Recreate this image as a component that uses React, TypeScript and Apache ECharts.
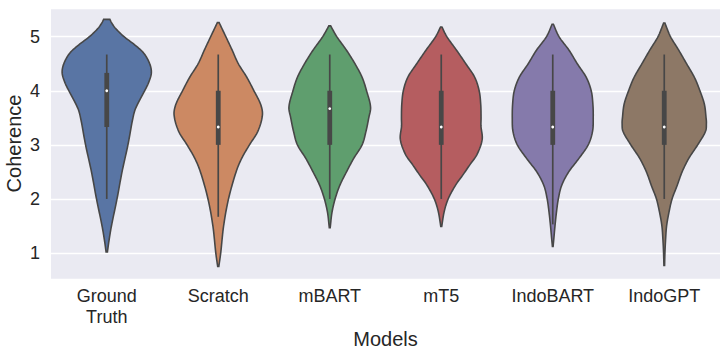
import React, { useEffect, useRef } from "react";
import * as echarts from "echarts";

const categories = ["Ground\nTruth", "Scratch", "mBART", "mT5", "IndoBART", "IndoGPT"];

// density profiles: [value, half-width as fraction of category band]
const groundTruthDensity = [
  [1.02, 0.006], [1.2, 0.018], [1.5, 0.042], [2.0, 0.092], [2.5, 0.137], [3.0, 0.19],
  [3.5, 0.235], [3.68, 0.26], [4.0, 0.34], [4.15, 0.375], [4.33, 0.4], [4.5, 0.385],
  [4.7, 0.33], [4.85, 0.25], [5.0, 0.155], [5.15, 0.08], [5.25, 0.045], [5.32, 0.028],
];
const scratchDensity = [
  [0.75, 0.005], [1.0, 0.022], [1.5, 0.048], [2.0, 0.092], [2.5, 0.16], [2.75, 0.21],
  [3.0, 0.28], [3.25, 0.355], [3.55, 0.396], [3.75, 0.38], [4.0, 0.32], [4.25, 0.256],
  [4.5, 0.18], [4.75, 0.125], [5.0, 0.068], [5.26, 0.008],
];
const mbartDensity = [
  [1.47, 0.004], [1.75, 0.02], [2.0, 0.048], [2.25, 0.09], [2.5, 0.15], [2.75, 0.215],
  [3.0, 0.29], [3.25, 0.325], [3.5, 0.35], [3.7, 0.366], [4.0, 0.33], [4.25, 0.29],
  [4.5, 0.226], [4.75, 0.15], [5.0, 0.063], [5.2, 0.008],
];
const mt5Density = [
  [1.49, 0.004], [1.77, 0.027], [2.0, 0.062], [2.26, 0.13], [2.45, 0.196], [2.63, 0.256],
  [2.82, 0.32], [3.1, 0.367], [3.35, 0.356], [3.5, 0.357], [3.75, 0.354], [4.0, 0.34],
  [4.25, 0.3], [4.5, 0.22], [4.75, 0.137], [5.0, 0.05], [5.18, 0.006],
];
const indobartDensity = [
  [1.12, 0.003], [1.25, 0.009], [1.5, 0.02], [1.75, 0.033], [2.0, 0.05], [2.25, 0.08],
  [2.5, 0.143], [2.75, 0.235], [3.0, 0.318], [3.25, 0.357], [3.5, 0.363], [3.75, 0.36],
  [4.0, 0.345], [4.25, 0.3], [4.5, 0.22], [4.75, 0.146], [5.0, 0.056], [5.23, 0.006],
];
const indogptDensity = [
  [0.77, 0.003], [1.0, 0.006], [1.25, 0.012], [1.5, 0.021], [1.75, 0.042], [2.0, 0.07],
  [2.25, 0.116], [2.5, 0.16], [2.75, 0.22], [3.0, 0.3], [3.25, 0.37], [3.4, 0.378],
  [3.5, 0.375], [3.75, 0.36], [4.0, 0.32], [4.25, 0.27], [4.5, 0.2], [4.75, 0.13],
  [5.0, 0.056], [5.25, 0.006],
];

const whiskerLow = [2.0, 1.67, 2.0, 2.0, 1.53, 2.0];
const q1 = [3.33, 3.0, 3.0, 3.0, 3.0, 3.0];
const median = [4.0, 3.33, 3.67, 3.33, 3.33, 3.33];
const q3 = [4.33, 4.0, 4.0, 4.0, 4.0, 4.0];
const whiskerHigh = [4.67, 4.67, 4.67, 4.67, 4.67, 4.67];

const colors = ["#5975a4", "#cc8963", "#5f9e6e", "#b55d60", "#857aab", "#8d7866"];
const densities = [groundTruthDensity, scratchDensity, mbartDensity, mt5Density, indobartDensity, indogptDensity];

const GRAY = "#474747";
const FONT = "'Liberation Sans', Arial, sans-serif";

function sampleProfile(prof: number[][]): number[][] {
  const n = prof.length;
  const m: number[] = [];
  for (let i = 0; i < n; i++) {
    if (i === 0) m.push((prof[1][1] - prof[0][1]) / (prof[1][0] - prof[0][0]));
    else if (i === n - 1) m.push((prof[n - 1][1] - prof[n - 2][1]) / (prof[n - 1][0] - prof[n - 2][0]));
    else m.push((prof[i + 1][1] - prof[i - 1][1]) / (prof[i + 1][0] - prof[i - 1][0]));
  }
  const out: number[][] = [];
  const steps = 10;
  for (let i = 0; i < n - 1; i++) {
    const [v0, w0] = prof[i];
    const [v1, w1] = prof[i + 1];
    const h = v1 - v0;
    for (let s = 0; s < steps; s++) {
      const t = s / steps;
      const t2 = t * t, t3 = t2 * t;
      const w =
        (2 * t3 - 3 * t2 + 1) * w0 + (t3 - 2 * t2 + t) * h * m[i] +
        (-2 * t3 + 3 * t2) * w1 + (t3 - t2) * h * m[i + 1];
      out.push([v0 + t * h, Math.max(w, 0.001)]);
    }
  }
  out.push(prof[n - 1]);
  return out;
}

export default function App() {
  const ref = useRef<HTMLDivElement>(null);
  useEffect(() => {
    if (!ref.current) return;
    const chart = echarts.init(ref.current, undefined, { renderer: "svg" });
    const option = {
      animation: false,
      backgroundColor: "#ffffff",
      textStyle: { fontFamily: FONT },
      grid: {
        left: 51, right: 7, top: 8, bottom: 78,
        show: true, backgroundColor: "#EAEAF2", borderWidth: 0,
        containLabel: false,
        outerBoundsMode: "none",
      },
      xAxis: {
        type: "category",
        data: categories,
        axisLine: { show: false },
        axisTick: { show: false },
        splitLine: { show: false },
        axisLabel: { fontSize: 18, color: "#262626", lineHeight: 21, margin: 6, fontFamily: FONT },
        name: "Models",
        nameLocation: "middle",
        nameGap: 50,
        nameMoveOverlap: false,
        nameTextStyle: { fontSize: 20, color: "#262626", fontFamily: FONT, lineHeight: 20 },
      },
      yAxis: {
        type: "value",
        min: 0.52,
        max: 5.53,
        splitNumber: 5,
        axisLine: { show: false },
        axisTick: { show: false },
        splitLine: { show: true, lineStyle: { color: "#ffffff", width: 1.3 } },
        axisLabel: { fontSize: 18, color: "#262626", margin: 11, showMinLabel: false, showMaxLabel: false, fontFamily: FONT },
        name: "Coherence",
        nameLocation: "middle",
        nameGap: 27,
        nameRotate: 90,
        nameMoveOverlap: false,
        nameTextStyle: { fontSize: 20, color: "#262626", fontFamily: FONT, lineHeight: 20 },
      },
      series: [
        {
          type: "custom",
          data: categories.map((_, i) => [i, median[i]]),
          encode: { x: 0, y: 1 },
          renderItem: (params: any, api: any) => {
            const idx = params.dataIndex;
            const cat = api.value(0);
            const bw = api.size([1, 0])[0];
            const cx = api.coord([cat, median[idx]])[0];
            const pts = sampleProfile(densities[idx]);
            const right = pts.map(([v, w]) => [cx + w * bw, api.coord([cat, v])[1]]);
            const left = pts.slice().reverse().map(([v, w]) => [cx - w * bw, api.coord([cat, v])[1]]);
            const yWl = api.coord([cat, whiskerLow[idx]])[1];
            const yWh = api.coord([cat, whiskerHigh[idx]])[1];
            const yQ1 = api.coord([cat, q1[idx]])[1];
            const yQ3 = api.coord([cat, q3[idx]])[1];
            const yMed = api.coord([cat, median[idx]])[1];
            return {
              type: "group",
              children: [
                {
                  type: "polygon",
                  shape: { points: right.concat(left) },
                  style: { fill: colors[idx], stroke: GRAY, lineWidth: 1.6 },
                },
                {
                  type: "line",
                  shape: { x1: cx, y1: yWl, x2: cx, y2: yWh },
                  style: { stroke: GRAY, lineWidth: 1.7 },
                },
                {
                  type: "line",
                  shape: { x1: cx, y1: yQ1, x2: cx, y2: yQ3 },
                  style: { stroke: GRAY, lineWidth: 4.8 },
                },
                {
                  type: "circle",
                  shape: { cx: cx, cy: yMed, r: 1.4 },
                  style: { fill: "#ffffff" },
                },
              ],
            };
          },
        },
      ],
    };
    chart.setOption(option as any);
    return () => chart.dispose();
  }, []);
  return (
    <div
      ref={ref}
      style={{ position: "fixed", left: 0, top: 0, width: 727, height: 357 }}
    />
  );
}
